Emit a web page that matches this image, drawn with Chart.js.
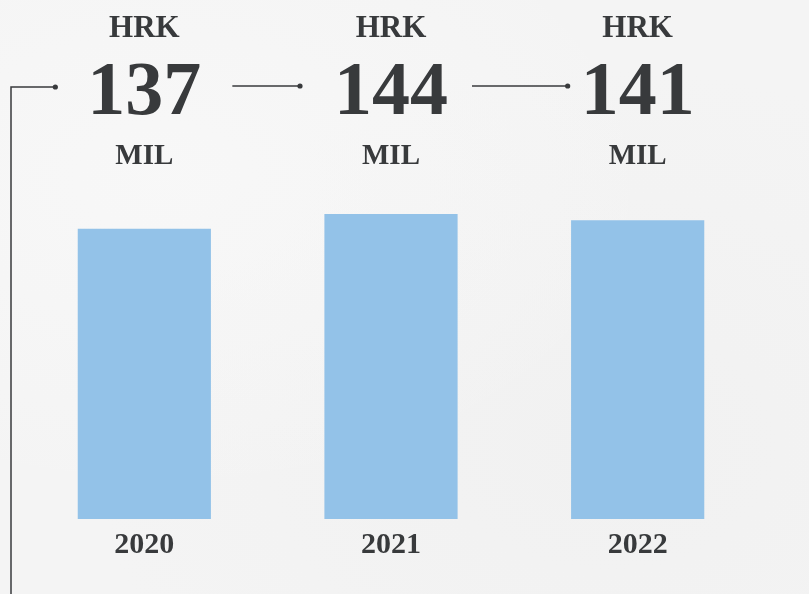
<!DOCTYPE html>
<html>
<head>
<meta charset="utf-8">
<script src="https://cdn.jsdelivr.net/npm/chart.js@4/dist/chart.umd.min.js"></script>
<style>
    html, body {
        margin: 0;
        padding: 0;
    }

    body {
        width: 809px;
        height: 594px;
        overflow: hidden;
        background-color: #f4f4f4;
        background-image:
            radial-gradient(ellipse at 20% 30%, rgba(250,250,250,0.6), rgba(250,250,250,0) 55%),
            radial-gradient(ellipse at 75% 75%, rgba(238,238,238,0.5), rgba(238,238,238,0) 60%);
    }

    .wrap {
        position: relative;
        width: 809px;
        height: 594px;
    }
</style>
</head>
<body>
<div class="wrap">
    <canvas id="canvas"></canvas>
</div>
<script>
const years = ['2020', '2021', '2022'];
const revenue = [137, 144, 141];
const currency = 'HRK';
const unit = 'MIL';

const ink = '#383a3c';
const serif = '"Liberation Serif", "DejaVu Serif", serif';

// headline figures above each bar, joined by a thin connector line
const headlines = {
    id: 'headlines',
    afterDraw(chart) {
        const ctx = chart.ctx;
        const bars = chart.getDatasetMeta(0).data;
        const area = chart.chartArea;
        const lineY = 86;
        // gap left between a connector and the figures on either side
        const startGap = [88, 81];
        const endGap = [91, 70];

        ctx.save();
        ctx.fillStyle = ink;
        ctx.textAlign = 'center';
        ctx.textBaseline = 'alphabetic';

        bars.forEach((bar, i) => {
            ctx.font = 'bold 31px ' + serif;
            ctx.fillText(currency, bar.x, 37);
            ctx.font = 'bold 76px ' + serif;
            ctx.fillText(String(revenue[i]), bar.x, 114);
            ctx.font = 'bold 29px ' + serif;
            ctx.fillText(unit, bar.x, 164);
        });

        ctx.strokeStyle = ink;
        ctx.lineWidth = 1.5;

        const dot = (x, y) => {
            ctx.beginPath();
            ctx.arc(x, y, 2.6, 0, Math.PI * 2);
            ctx.fill();
        };

        // left rail running down the page
        const railX = area.left - 10;
        ctx.beginPath();
        ctx.moveTo(railX, chart.height);
        ctx.lineTo(railX, lineY + 1);
        ctx.lineTo(bars[0].x - 89, lineY + 1);
        ctx.stroke();
        dot(bars[0].x - 89, lineY + 1);

        for (let i = 0; i < bars.length - 1; i++) {
            const x0 = bars[i].x + startGap[i];
            const x1 = bars[i + 1].x - endGap[i];
            ctx.beginPath();
            ctx.moveTo(x0, lineY);
            ctx.lineTo(x1, lineY);
            ctx.stroke();
            dot(x1, lineY);
        }
        ctx.restore();
    }
};

new Chart(document.getElementById('canvas').getContext('2d'), {
    type: 'bar',
    data: {
        labels: years,
        datasets: [{
            data: revenue,
            backgroundColor: '#93c2e8',
            borderWidth: 0,
            barPercentage: 0.54,
            categoryPercentage: 1
        }]
    },
    options: {
        responsive: true,
        maintainAspectRatio: false,
        animation: false,
        layout: {
            padding: { top: 180, left: 21, right: 48, bottom: 31 }
        },
        plugins: {
            legend: { display: false },
            tooltip: { enabled: false }
        },
        scales: {
            x: {
                grid: { display: false },
                border: { display: false },
                ticks: {
                    color: ink,
                    padding: 0,
                    font: { family: serif, size: 30, weight: 'bold' }
                }
            },
            y: {
                display: false,
                min: 0,
                max: 160
            }
        }
    },
    plugins: [headlines]
});
</script>
</body>
</html>
